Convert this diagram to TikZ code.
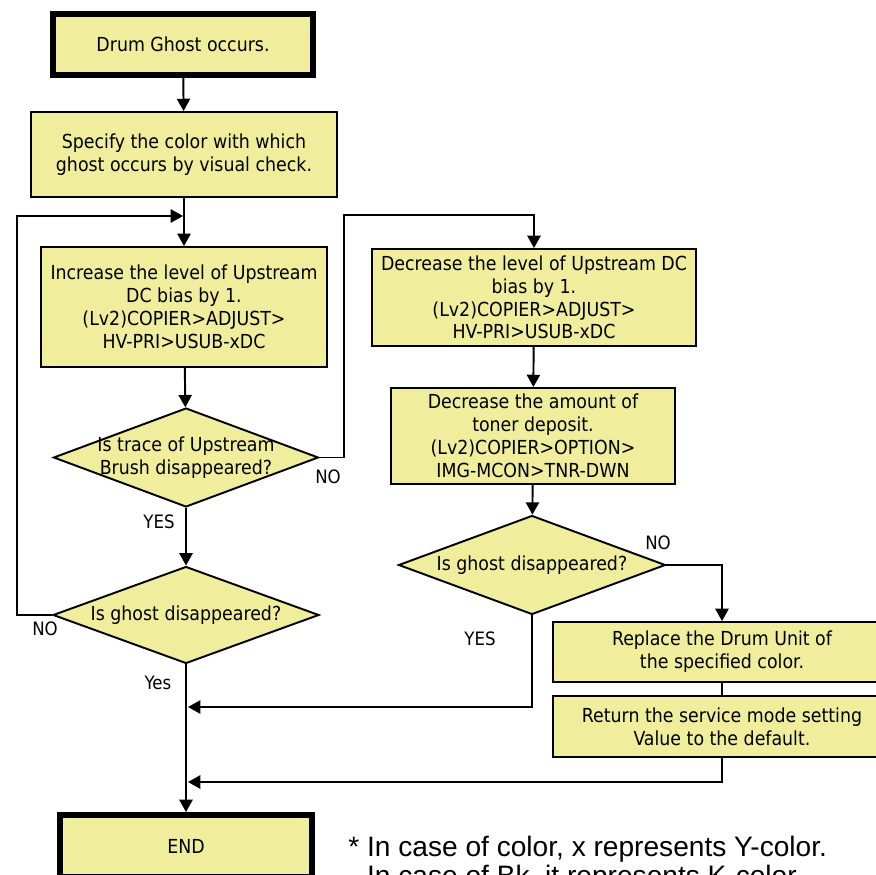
\documentclass[tikz,border=0pt]{standalone}
\usepackage{fontspec}
\setmainfont{DejaVu Sans Condensed}
\newfontfamily\notefont{Liberation Sans}
\usetikzlibrary{arrows.meta,shapes.geometric}
\definecolor{boxfill}{RGB}{240,238,156}
\tikzset{
	proc/.style={draw, line width=1.1pt, fill=boxfill, align=center, inner sep=0pt, font=\fontsize{11}{13}\selectfont},
	term/.style={proc, line width=3.4pt},
	decide/.style={diamond, draw, line width=1.1pt, fill=boxfill, inner sep=0pt},
	dlabel/.style={align=center, inner sep=0pt, font=\fontsize{11}{13}\selectfont},
	arr/.style={line width=1.1pt, -{Triangle[length=7pt,width=7.5pt]}},
	lnk/.style={line width=1.1pt},
	yn/.style={inner sep=0pt, font=\fontsize{10.5}{12}\selectfont}
}

\begin{document}
\begin{tikzpicture}[x=0.02cm, y=-0.02cm]
			%%%%% START %%%%%
			\useasboundingbox (0,0) rectangle (876,875);
			\clip (0,0) rectangle (876,875);
			
			% left column
			\node[term, minimum width=5.2cm, minimum height=1.22cm] (start) at (183,44.5) {Drum Ghost occurs.};
			\node[proc, minimum width=6.12cm, minimum height=1.7cm] (spec) at (184,154.5) {Specify the color with which\\ghost occurs by visual check.};
			\node[proc, minimum width=5.72cm, minimum height=2.4cm] (incr) at (184,307) {Increase the level of Upstream\\DC bias by 1.\\(Lv2)COPIER>ADJUST>\\HV-PRI>USUB-xDC};
			\node[decide, minimum width=5.3cm, minimum height=1.98cm, label={[dlabel]center:Is trace of Upstream\\Brush disappeared?}] (trace) at (186,457.5) {};
			\node[decide, minimum width=5.32cm, minimum height=1.94cm, label={[dlabel]center:Is ghost disappeared?}] (ghost) at (186,615) {};
			\node[term, minimum width=5.04cm, minimum height=1.24cm] (fin) at (186,846) {END};
			
			% right column
			\node[proc, minimum width=6.48cm, minimum height=1.94cm] (decr) at (534,297.5) {Decrease the level of Upstream DC\\bias by 1.\\(Lv2)COPIER>ADJUST>\\HV-PRI>USUB-xDC};
			\node[proc, minimum width=5.68cm, minimum height=1.92cm] (toner) at (533,436) {Decrease the amount of\\toner deposit.\\(Lv2)COPIER>OPTION>\\IMG-MCON>TNR-DWN};
			\node[decide, minimum width=5.34cm, minimum height=1.98cm, label={[dlabel]center:Is ghost disappeared?}] (ghostb) at (532,565) {};
			\node[proc, minimum width=6.76cm, minimum height=1.2cm] (drum) at (722,652) {Replace the Drum Unit of\\the specified color.};
			\node[proc, minimum width=6.76cm, minimum height=1.22cm] (reset) at (722,726.5) {Return the service mode setting\\Value to the default.};
			
			% bends
			\coordinate (loop) at (17,216);
			\coordinate (loopin) at (184,216);
			\coordinate (jog) at (344,215);
			\coordinate (joinA) at (187,707);
			\coordinate (joinB) at (187,782);
			
			\draw[arr] (start) -- (spec);
			\draw[arr] (spec) -- (incr);
			\draw[arr] (incr) -- (trace);
			\draw[arr] (trace) -- (ghost);
			\draw[arr] (ghost) -- (fin);
			\draw[arr, shorten >=0.55pt] (ghost.west) -| (loop) -- (loopin);
			\draw[arr] (trace.east) -| (jog) -| (decr.north);
			\draw[arr] (decr) -- (toner);
			\draw[arr] (toner) -- (ghostb);
			\draw[arr] (ghostb.east) -| (drum.north);
			\draw[lnk] (drum) -- (reset);
			\draw[arr, shorten >=0.55pt] (ghostb.south) |- (joinA);
			\draw[arr, shorten >=0.55pt] (reset.south) |- (joinB);
			
			% yes / no
			\node[yn] (noA) at (328,477) {NO};
			\node[yn] (yesA) at (159,522) {YES};
			\node[yn] (noB) at (45,629) {NO};
			\node[yn] (yesB) at (158,683) {Yes};
			\node[yn] (noC) at (658,543) {NO};
			\node[yn] (yesC) at (480,639) {YES};
			
			\node[anchor=north west, align=left, inner sep=0pt, font=\notefont\fontsize{16}{16.5}\selectfont] (note) at (348,836) {* In case of color, x represents Y-color.\\\phantom{* }In case of Bk, it represents K-color.};
			%%%%% END %%%%%
\end{tikzpicture}
\end{document}
